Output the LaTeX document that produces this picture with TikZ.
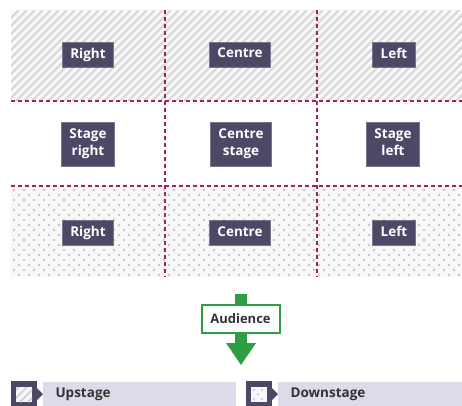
\documentclass[tikz,border=0pt]{standalone}
\usepackage{fontspec}
\setmainfont{Open Sans}
\definecolor{boxfill}{HTML}{4E4866}
\definecolor{gridline}{HTML}{A3215E}
\definecolor{hatchgrey}{HTML}{D6D6D6}
\definecolor{dotgrey}{HTML}{C6C6C6}
\definecolor{zonebg}{HTML}{F8F8F8}
\definecolor{audgreen}{HTML}{2E9E44}
\definecolor{keybar}{HTML}{DDDBE9}
\definecolor{labeltext}{HTML}{333333}
\tikzset{
  gridrule/.style={draw=gridline, line width=2pt, dash pattern=on 4pt off 3pt},
  stagebox/.style={fill=boxfill, draw=boxfill!75!white, line width=0.6pt, text=white,
    font=\bfseries\fontsize{13.5}{17}\selectfont, align=center,
    inner xsep=8pt, inner ysep=0pt, minimum height=25pt,
    execute at begin node={\vphantom{Ag}}, execute at end node={\vphantom{Ag}}},
  keytext/.style={anchor=west, text=labeltext, font=\bfseries\fontsize{13.5}{16}\selectfont},
}
\begin{document}
\begin{tikzpicture}[x=1pt, y=-1pt]
\useasboundingbox (0,0) rectangle (462,405);

% upstage zone: diagonal hatching
\fill[zonebg] (11,10) rectangle (462,101);
\begin{scope}
  \clip (11,10) rectangle (462,101);
  \foreach \k in {-96,-88,...,464}
    \draw[hatchgrey, line width=2pt] (\k,101) -- ++(91,-91);
\end{scope}

% downstage zone: staggered dots
\fill[zonebg] (11,186) rectangle (462,277);
\begin{scope}
  \clip (11,186) rectangle (462,277);
  \foreach \j in {0,...,18}
    \foreach \i in {0,...,45}
      \fill[dotgrey] ({14+10*\i+5*mod(\j,2)},{190+5*\j}) circle (1.35);
\end{scope}

% dividing lines of the stage grid
\draw[gridrule] (11,101) -- (462,101);
\draw[gridrule] (11,186) -- (462,186);
\draw[gridrule] (165,10) -- (165,277);
\draw[gridrule] (317,10) -- (317,277);

% area labels
\node[stagebox] (ur) at (88,54.5)  {Right};
\node[stagebox] (uc) at (240,54.5) {Centre};
\node[stagebox] (ul) at (394,54.5) {Left};
\node[stagebox, minimum height=44pt] (mr) at (88,144)  {Stage\\right};
\node[stagebox, minimum height=44pt] (mc) at (241,144) {Centre\\stage};
\node[stagebox, minimum height=44pt] (ml) at (393,144) {Stage\\left};
\node[stagebox] (dr) at (88,233)  {Right};
\node[stagebox] (dc) at (240,233) {Centre};
\node[stagebox] (dl) at (394,233) {Left};

% audience arrow
\fill[audgreen] (235,294) rectangle (247,344);
\fill[audgreen] (226,343) -- (256,343) -- (241,365) -- cycle;
\node[draw=audgreen, line width=2pt, fill=white, minimum width=78pt, minimum height=28pt,
      inner sep=0pt, text=labeltext, font=\bfseries\fontsize{13}{16}\selectfont]
  (aud) at (240.5,318.5) {Audience};

% key: upstage
\fill[keybar] (43,382) rectangle (236,410);
\fill[boxfill] (11,381) rectangle (37,410);
\fill[boxfill] (37,388) -- (43,394) -- (37,400) -- cycle;
\fill[zonebg] (16,387) rectangle (32,402);
\begin{scope}
  \clip (16,387) rectangle (32,402);
  \foreach \k in {4,12,20,28}
    \draw[hatchgrey, line width=2pt] (\k,402) -- ++(15,-15);
\end{scope}
\node[keytext] (kup) at (52,394) {Upstage};

% key: downstage
\fill[keybar] (278,382) rectangle (462,410);
\fill[boxfill] (246,381) rectangle (272,410);
\fill[boxfill] (272,388) -- (278,394) -- (272,400) -- cycle;
\fill[zonebg] (251,387) rectangle (267,402);
\foreach \p in {(254,390),(262,390),(258,394.5),(254,399),(262,399)}
  \fill[dotgrey] \p circle (1.2);
\node[keytext] (kdown) at (287,394) {Downstage};
\end{tikzpicture}
\end{document}
